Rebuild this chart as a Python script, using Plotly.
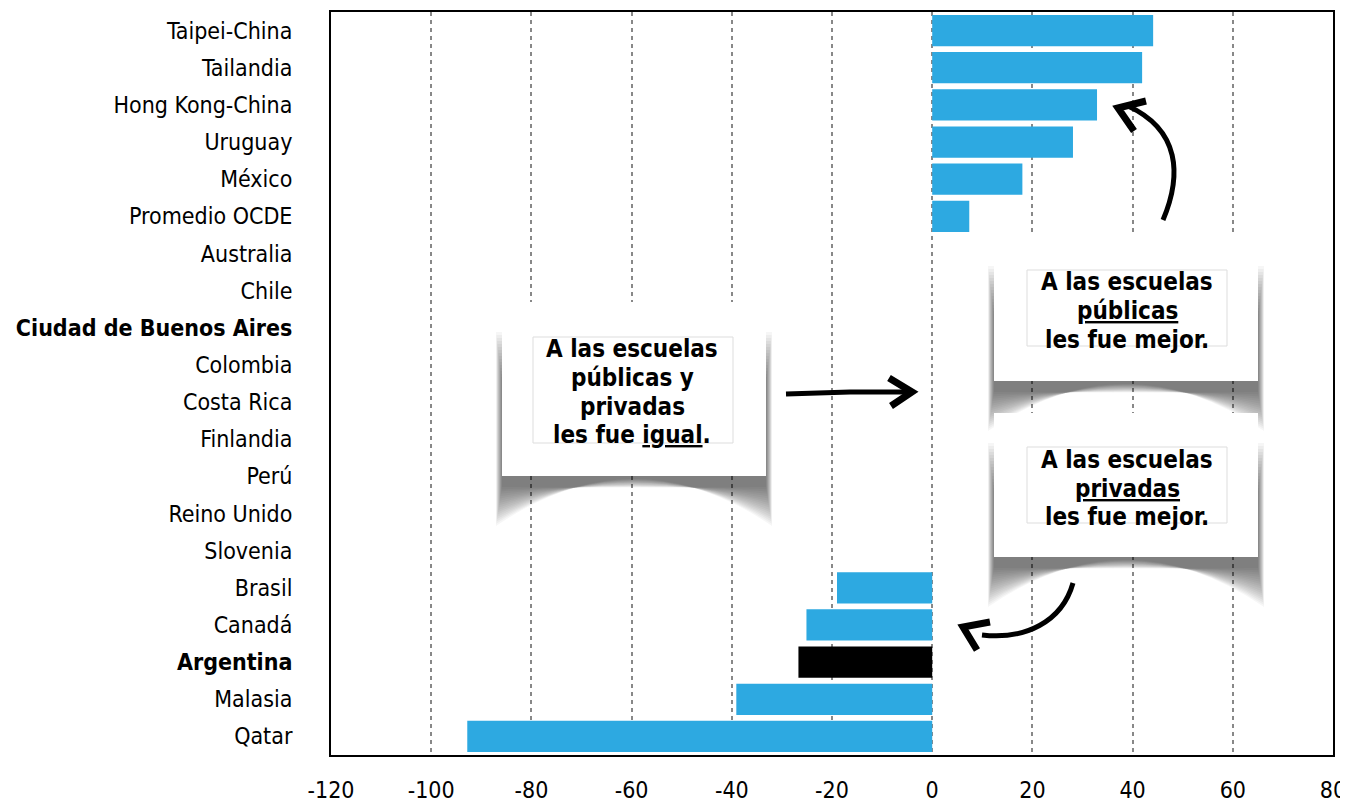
import plotly.graph_objects as go

categories = ["Taipei-China", "Tailandia", "Hong Kong-China", "Uruguay", "México",
              "Promedio OCDE", "Australia", "Chile", "Ciudad de Buenos Aires", "Colombia",
              "Costa Rica", "Finlandia", "Perú", "Reino Unido", "Slovenia", "Brasil",
              "Canadá", "Argentina", "Malasia", "Qatar"]
values = [44.1, 41.9, 32.9, 28.1, 18.0, 7.4, 0, 0, 0, 0,
          0, 0, 0, 0, 0, -19.0, -25.1, -26.7, -39.1, -92.8]
bold_labels = ["Ciudad de Buenos Aires", "Argentina"]
highlight = "Argentina"
x_ticks = [-120, -100, -80, -60, -40, -20, 0, 20, 40, 60, 80]

BLUE = "#2DA9E1"
FONT = "DejaVu Sans Condensed, Liberation Sans Narrow, sans-serif"

colors = ["#000000" if c == highlight else BLUE for c in categories]
ticktext = [f"<b>{c}</b>" if c in bold_labels else c for c in categories]

fig = go.Figure(go.Bar(
    y=categories, x=values, orientation="h", marker=dict(color=colors, line=dict(width=0)),
    width=0.84, hoverinfo="x+y"))

# page offset (default body margin of the html page)
OFF = 8
W, H = 1348 - OFF, 806 - OFF
# plot area geometry (page pixels) for decorative callouts
L, R, T, B = 331, 1333, 12, 755
def P(x, y):
    return ((x - L) / (R - L), (B - y) / (B - T))

def path(cmds):
    out = []
    for c in cmds:
        if isinstance(c, str):
            out.append(c)
        else:
            px, py = P(*c)
            out.append(f"{px:.5f},{py:.5f}")
    return " ".join(out)

shapes = []
annotations = []

def callout(x0, y0, x1, y1, inner, lines):
    xm = (x0 + x1) / 2
    n = 18
    for k in range(n):
        d = 6 - k * 0.35
        h = 50 - k * 2.3
        cy = y1 + h - 2 * (h - 3 - k * 0.5)
        top = y0 + 30 + k * 3
        shapes.append(dict(type="path", xref="paper", yref="paper", layer="above",
                           path=path(["M", (x0 - d, top), "L", (x1 + d, top),
                                      "L", (x1 + d, y1 + h), "Q", (xm, cy), (x0 - d, y1 + h), "Z"]),
                           fillcolor="rgba(0,0,0,0.036)", line=dict(width=0)))
    x0p, y0p = P(x0, y0)
    x1p, y1p = P(x1, y1)
    shapes.append(dict(type="rect", xref="paper", yref="paper", x0=x0p, x1=x1p, y0=y1p, y1=y0p,
                       fillcolor="white", line=dict(width=0), layer="above"))
    ix0, iy0, ix1, iy1 = inner
    a, b = P(ix0, iy0)
    c, d2 = P(ix1, iy1)
    shapes.append(dict(type="rect", xref="paper", yref="paper", x0=a, x1=c, y0=d2, y1=b,
                       fillcolor="rgba(0,0,0,0)", line=dict(width=1, color="#dddddd"), layer="above"))
    for txt, (tx, ty) in lines:
        px, py = P(tx, ty)
        annotations.append(dict(text=f"<b>{txt}</b>", x=px, y=py, xref="paper", yref="paper",
                                showarrow=False, xanchor="center", yanchor="middle",
                                font=dict(family=FONT, size=24, color="black")))

callout(502, 302, 766, 476, (533, 337, 733, 443), [
    ("A las escuelas", (632, 349)),
    ("públicas y", (632, 378)),
    ("privadas", (632, 407)),
    ("les fue <u>igual</u>.", (632, 435)),
])
callout(994, 236, 1258, 381, (1027, 270, 1227, 346), [
    ("A las escuelas", (1127, 282)),
    ("<u>públicas</u>", (1127, 311)),
    ("les fue mejor.", (1127, 340)),
])
callout(994, 413, 1258, 557, (1027, 447, 1227, 523), [
    ("A las escuelas", (1127, 460)),
    ("<u>privadas</u>", (1127, 489)),
    ("les fue mejor.", (1127, 517)),
])

def stroke(cmds, w=5):
    shapes.append(dict(type="path", xref="paper", yref="paper", layer="above",
                       path=path(cmds), line=dict(color="black", width=w)))

# arrows
stroke(["M", (786, 394), "L", (850, 392), "L", (910, 392)], 5)
stroke(["M", (889, 378), "L", (912, 392), "L", (891, 406)], 7)
stroke(["M", (1163, 220), "C", (1182, 175), (1180, 130), (1128, 106)], 5)
stroke(["M", (1146, 101), "L", (1118, 108), "L", (1134, 131)], 7)
stroke(["M", (1073, 583), "C", (1062, 622), (1025, 640), (982, 635)], 5)
stroke(["M", (990, 622), "L", (963, 627), "L", (977, 650)], 7)

fig.update_layout(
    width=W, height=H,
    margin=dict(l=L - OFF, r=W - (R - OFF), t=T - OFF, b=H - (B - OFF), autoexpand=False),
    plot_bgcolor="white", paper_bgcolor="white",
    showlegend=False,
    font=dict(family=FONT, size=23, color="black"),
    shapes=shapes, annotations=annotations,
    xaxis=dict(range=[-120, 80], tickvals=x_ticks, ticktext=[str(v) for v in x_ticks],
               showgrid=True, gridcolor="#888888", gridwidth=2, griddash="4px,4px",
               zeroline=False, showline=True, linecolor="black", linewidth=2, mirror=True,
               ticks="", ticklabelstandoff=13, automargin=False,
               tickfont=dict(size=23, family=FONT)),
    yaxis=dict(categoryorder="array", categoryarray=categories, autorange="reversed",
               tickvals=categories, ticktext=ticktext, showgrid=False, zeroline=False,
               showline=True, linecolor="black", linewidth=2, mirror=True, ticks="",
               ticklabelstandoff=32, automargin=False,
               tickfont=dict(size=23, family=FONT)),
)

fig.write_html("out.html")
